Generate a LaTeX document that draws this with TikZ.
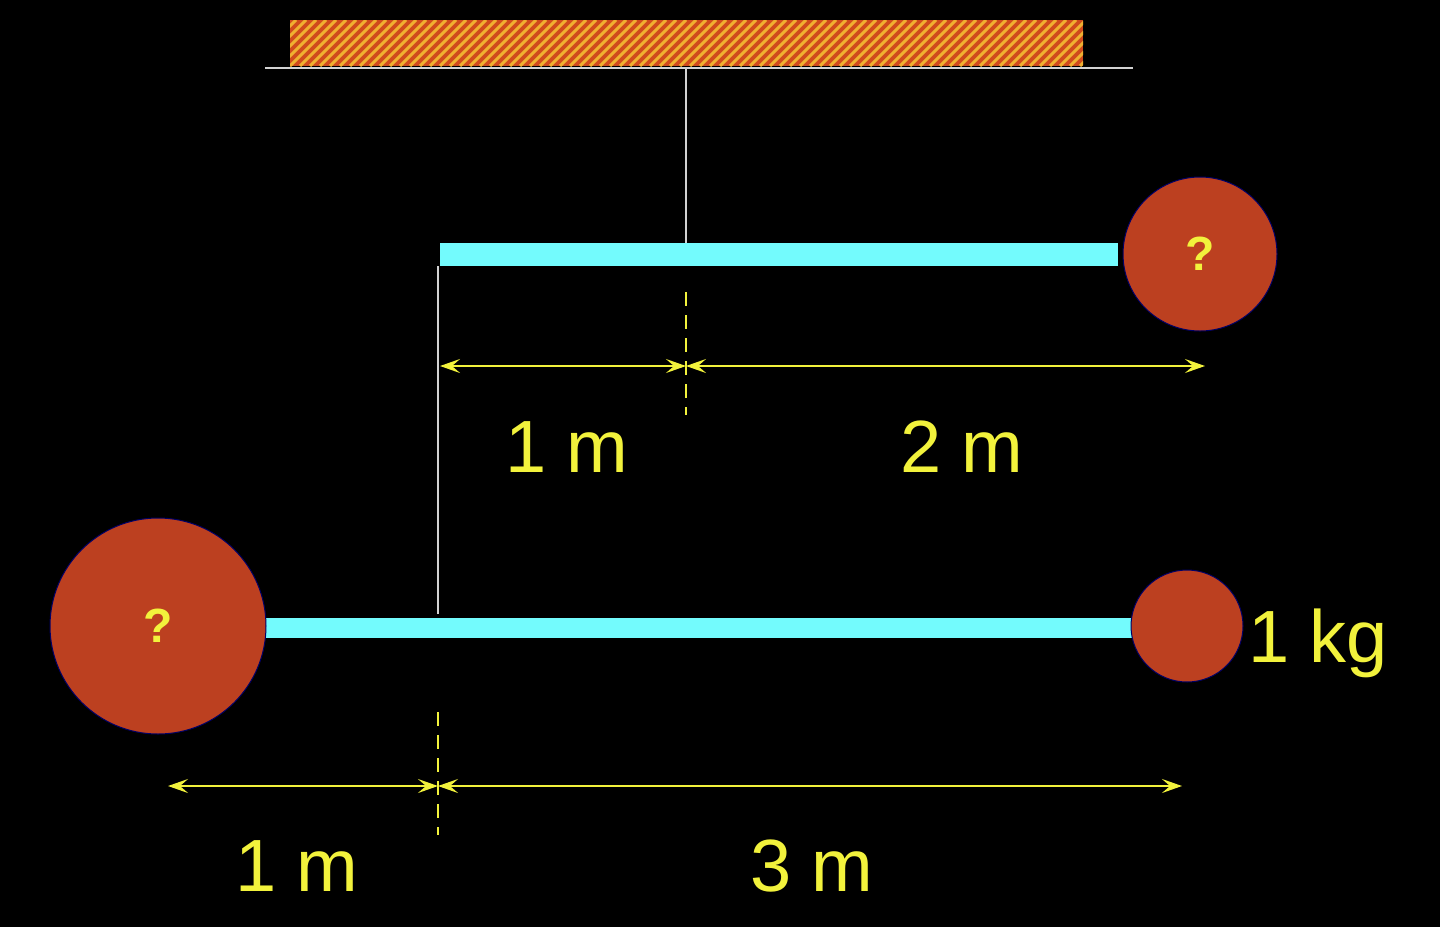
\documentclass[tikz,border=0pt]{standalone}
\usepackage{fontspec}
\setmainfont{Liberation Sans}
\usetikzlibrary{arrows.meta}
\definecolor{cyanbar}{HTML}{73FBFD}
\definecolor{ball}{HTML}{BC4020}
\definecolor{ylw}{HTML}{F2F23C}
\definecolor{hatchbg}{HTML}{D04A1C}
\definecolor{hatchln}{HTML}{F0B030}
\tikzset{
  bar/.style={fill=cyanbar,draw=none},
  mass/.style={circle,fill=ball,draw=blue!40!black,line width=1pt,inner sep=0pt,text=ylw,font=\bfseries\fontsize{48}{50}\selectfont},
  str/.style={draw=gray!35,line width=2.5pt},
  dim/.style={draw=ylw,line width=2pt,{Stealth[length=20pt,width=14pt,inset=8pt]}-{Stealth[length=20pt,width=14pt,inset=8pt]}},
  dsh/.style={draw=ylw,line width=2.5pt,dash pattern=on 14pt off 9pt},
  lbl/.style={text=ylw,font=\fontsize{74}{76}\selectfont,inner sep=0pt}
}
\begin{document}
\begin{tikzpicture}[x=1pt,y=-1pt]
\fill[black] (0,0) rectangle (1440,927);
\useasboundingbox (0,0) rectangle (1440,927);
% ceiling
\fill[hatchbg] (290,20) rectangle (1083,66);
\begin{scope}
\clip (290,20) rectangle (1083,66);
\foreach \i in {0,...,90} {\draw[hatchln,line width=3pt] (250+\i*10,66) -- (296+\i*10,20);}
\end{scope}
\coordinate (cl) at (265,68); \coordinate (cr) at (1133,68);
\draw[str] (cl) -- (cr);
\coordinate (hang) at (686,68); \coordinate (top) at (686,243);
\draw[str] (hang) -- (top);
% upper bar
\fill[bar] (440,243) rectangle (1118,266);
\node[mass,minimum size=154pt] (m2) at (1200,254) {?};
\coordinate (s1) at (438,266); \coordinate (s2) at (438,614);
\draw[str] (s1) -- (s2);
% lower bar
\fill[bar] (262,618) rectangle (1134,638);
\node[mass,minimum size=216pt] (m1) at (158,626) {?};
\node[mass,minimum size=112pt] (m3) at (1187,626) {};
\node[lbl,anchor=west] (kg) at (1248,643) {1 kg};
% upper dims
\coordinate (a1) at (440,366); \coordinate (a2) at (686,366); \coordinate (a3) at (1205,366);
\coordinate (d1) at (686,292); \coordinate (d2) at (686,415);
\draw[dsh] (d1) -- (d2);
\draw[dim] (a1) -- (a2);
\draw[dim] (a2) -- (a3);
\node[lbl] (l1) at (567,447) {1 m};
\node[lbl] (l2) at (962,447) {2 m};
% lower dims
\coordinate (b1) at (168,786); \coordinate (b2) at (438,786); \coordinate (b3) at (1182,786);
\coordinate (e1) at (438,712); \coordinate (e2) at (438,835);
\draw[dsh] (e1) -- (e2);
\draw[dim] (b1) -- (b2);
\draw[dim] (b2) -- (b3);
\node[lbl] (l3) at (297,866) {1 m};
\node[lbl] (l4) at (812,866) {3 m};
\end{tikzpicture}
\end{document}
